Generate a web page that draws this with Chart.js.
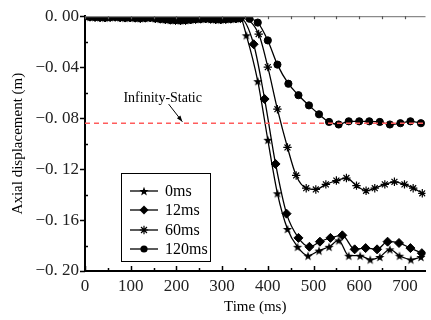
<!DOCTYPE html>
<html><head><meta charset="utf-8">
<script src="https://cdn.jsdelivr.net/npm/chart.js@4/dist/chart.umd.min.js"></script>
<style>html,body{margin:0;padding:0;background:#fff}#wrap{width:431px;height:320px}</style>
</head><body><div id="wrap"><canvas id="c" width="431" height="320"></canvas></div>
<script>
// ---- data ----
const earlyTimes = [0,11,22,33,44,55,66,77,88,99,110,121,132,143,154,165,176,187,198,209,220,231,242,253,264,275,286,297,308,319,330,340];
const earlyDisp  = [0,-0.0004,-0.0006,-0.0008,-0.0010,-0.0007,-0.0005,-0.0009,-0.0011,-0.0010,-0.0012,-0.0015,-0.0012,-0.0010,-0.0016,-0.0020,-0.0024,-0.0028,-0.0030,-0.0032,-0.0030,-0.0026,-0.0022,-0.0020,-0.0018,-0.0021,-0.0024,-0.0025,-0.0022,-0.0020,-0.0018,-0.0015];

const time0ms = [353,378,400,421,443,465,488,512,534,555,577,602,624,645,667,688,713,735];
const disp0ms = [-0.015,-0.051,-0.097,-0.139,-0.167,-0.181,-0.188,-0.184,-0.181,-0.176,-0.188,-0.188,-0.191,-0.189,-0.183,-0.188,-0.191,-0.189];

const time12ms = [369,393,417,441,467,491,514,537,563,590,614,639,662,687,712,737];
const disp12ms = [-0.022,-0.065,-0.116,-0.155,-0.174,-0.181,-0.177,-0.174,-0.172,-0.183,-0.182,-0.183,-0.177,-0.178,-0.182,-0.186];

const time60ms = [380,400,421,443,462,484,505,527,550,572,594,615,634,656,677,699,718,738];
const disp60ms = [-0.014,-0.040,-0.073,-0.103,-0.125,-0.135,-0.136,-0.132,-0.129,-0.127,-0.133,-0.137,-0.135,-0.132,-0.130,-0.132,-0.135,-0.139];

const time120ms = [360,378,400,421,445,467,490,512,534,555,577,600,622,645,667,690,712,735];
const disp120ms = [-0.002,-0.005,-0.019,-0.038,-0.053,-0.062,-0.070,-0.077,-0.083,-0.085,-0.0825,-0.0825,-0.0825,-0.083,-0.085,-0.084,-0.0825,-0.084];

const seriesNames = ['0ms','12ms','60ms','120ms'];
const staticLevel = -0.084;
const staticLabel = 'Infinity-Static';
const xTickValues = [0,100,200,300,400,500,600,700];
const yTickValues = [0,-0.04,-0.08,-0.12,-0.16,-0.20];

// ---- markers ----
function starCanvas(r){
  const s = Math.ceil(r*2)+2;
  const c = document.createElement('canvas'); c.width = s; c.height = s;
  const g = c.getContext('2d');
  g.translate(s/2, s/2+0.6);
  g.beginPath();
  for(let i=0;i<10;i++){
    const rad = i%2 ? r*0.42 : r;
    const a = -Math.PI/2 + i*Math.PI/5;
    g.lineTo(rad*Math.cos(a), rad*Math.sin(a));
  }
  g.closePath(); g.fillStyle='#000'; g.fill();
  return c;
}
const star5 = starCanvas(4.8);

function build(times, disp){
  const t = earlyTimes.concat(times), d = earlyDisp.concat(disp);
  return t.map((v,i)=>({x:v, y:d[i]}));
}
const FONT = '"Liberation Serif", "Times New Roman", serif';

const styles = [
  {pointStyle: star5, radius: 4.5},
  {pointStyle: 'rectRot', radius: 4.5},
  {pointStyle: 'star', radius: 4.2},
  {pointStyle: 'circle', radius: 3.6}
];
const allSeries = [[time0ms,disp0ms],[time12ms,disp12ms],[time60ms,disp60ms],[time120ms,disp120ms]];

const datasets = allSeries.map((s,i)=>({
  label: seriesNames[i],
  data: build(s[0], s[1]),
  borderColor:'#000', backgroundColor:'#000', borderWidth:1.3,
  pointStyle: styles[i].pointStyle, pointRadius: styles[i].radius,
  pointBorderColor:'#000', pointBackgroundColor:'#000', pointBorderWidth: i===2?1.2:1,
  cubicInterpolationMode:'monotone', order: 1
}));
datasets.push({
  label:'static', data:[{x:0,y:staticLevel},{x:745,y:staticLevel}],
  borderColor:'#ff5c5c', borderWidth:1.6, borderDash:[5,4], pointRadius:0, order:0
});

function drawMarker(ctx, i, x, y){
  ctx.fillStyle='#000'; ctx.strokeStyle='#000';
  if(i===0){ ctx.drawImage(star5, x-star5.width/2, y-star5.height/2); return; }
  ctx.beginPath();
  if(i===1){ const r=4.5; ctx.moveTo(x,y-r); ctx.lineTo(x+r,y); ctx.lineTo(x,y+r); ctx.lineTo(x-r,y); ctx.closePath(); ctx.fill(); }
  else if(i===2){ const r=4.2; ctx.lineWidth=1.2;
    for(let k=0;k<4;k++){ const a=k*Math.PI/4; ctx.moveTo(x-r*Math.cos(a),y-r*Math.sin(a)); ctx.lineTo(x+r*Math.cos(a),y+r*Math.sin(a)); }
    ctx.stroke(); }
  else { ctx.arc(x,y,3.6,0,Math.PI*2); ctx.fill(); }
}

const deco = {
  id:'deco',
  afterDraw(chart){
    const {ctx, chartArea:a, scales:{x, y}} = chart;
    ctx.save();
    // top frame line
    ctx.strokeStyle='#8a8a8a'; ctx.lineWidth=1.2;
    ctx.beginPath(); ctx.moveTo(a.left, a.top+0.5); ctx.lineTo(a.right, a.top+0.5); ctx.stroke();
    ctx.strokeStyle='#555'; ctx.lineWidth=1.2;
    for(let v=0; v<=745; v+=50){
      const px = Math.round(x.getPixelForValue(v))+0.5;
      ctx.beginPath(); ctx.moveTo(px, a.top); ctx.lineTo(px, a.top+3); ctx.stroke();
    }
    // x ticks (inward)
    ctx.strokeStyle='#000'; ctx.lineWidth=1.5;
    for(let v=0; v<=745; v+=50){
      const px = Math.round(x.getPixelForValue(v))+0.5;
      const len = v%100===0 ? 5 : 3;
      ctx.beginPath(); ctx.moveTo(px, a.bottom); ctx.lineTo(px, a.bottom-len); ctx.stroke();
    }
    // y ticks: major outward, minor inward
    for(let k=0; k<=10; k++){
      const v = -k*0.02;
      const py = Math.round(y.getPixelForValue(v))+0.5;
      ctx.beginPath();
      if(k%2===0){ ctx.moveTo(a.left, py); ctx.lineTo(a.left-5, py); }
      else { ctx.moveTo(a.left, py); ctx.lineTo(a.left+3, py); }
      ctx.stroke();
    }
    // annotation
    ctx.fillStyle='#000'; ctx.font='14px '+FONT; ctx.textAlign='center'; ctx.textBaseline='middle';
    ctx.fillText(staticLabel, x.getPixelForValue(170), y.getPixelForValue(-0.0645));
    const tx = x.getPixelForValue(183), ty = y.getPixelForValue(-0.069);
    const hx = x.getPixelForValue(213), hy = y.getPixelForValue(-0.0828);
    ctx.strokeStyle='#000'; ctx.lineWidth=1;
    ctx.beginPath(); ctx.moveTo(tx,ty); ctx.lineTo(hx,hy); ctx.stroke();
    const ang = Math.atan2(hy-ty, hx-tx);
    ctx.beginPath(); ctx.moveTo(hx,hy);
    ctx.lineTo(hx-6*Math.cos(ang)+2.2*Math.sin(ang), hy-6*Math.sin(ang)-2.2*Math.cos(ang));
    ctx.lineTo(hx-6*Math.cos(ang)-2.2*Math.sin(ang), hy-6*Math.sin(ang)+2.2*Math.cos(ang));
    ctx.closePath(); ctx.fill();
    // legend box
    const bx = 121.5, by = 173.5, bw = 89, bh = 88;
    ctx.fillStyle='#fff'; ctx.fillRect(bx,by,bw,bh);
    ctx.strokeStyle='#000'; ctx.lineWidth=1; ctx.strokeRect(bx,by,bw,bh);
    const rows = [191,210,230,249];
    ctx.font='16px '+FONT; ctx.textAlign='left'; ctx.textBaseline='middle';
    seriesNames.forEach((n,i)=>{
      const ly = rows[i];
      ctx.strokeStyle='#000'; ctx.lineWidth=1.3;
      ctx.beginPath(); ctx.moveTo(130, ly); ctx.lineTo(158, ly); ctx.stroke();
      drawMarker(ctx, i, 144, ly);
      ctx.fillStyle='#000'; ctx.fillText(n, 165, ly+1);
    });
    ctx.restore();
  }
};

function fmtY(v){
  if(Math.abs(v)<1e-9) return '0. 00';
  const s = Math.abs(v).toFixed(2).replace('.', '. ');
  return (v<0?'\u2212':'') + s;
}

new Chart(document.getElementById('c'), {
  type:'line',
  data:{datasets},
  options:{
    responsive:false, animation:false, devicePixelRatio:1,
    layout:{padding:{top:14,right:0,left:0,bottom:0}},
    plugins:{legend:{display:false}, tooltip:{enabled:false}},
    scales:{
      x:{type:'linear', min:0, max:745,
        afterFit(s){ s.height = 49; },
        afterBuildTicks(s){ s.ticks = xTickValues.map(v=>({value:v})); },
        ticks:{font:{family:FONT,size:17}, color:'#222', padding:5, maxRotation:0},
        grid:{display:false, drawTicks:false, tickLength:0},
        border:{display:true, color:'#000', width:2},
        title:{display:true, text:'Time (ms)', font:{family:FONT,size:15}, color:'#000', padding:{top:0,bottom:4}}
      },
      y:{type:'linear', min:-0.2, max:0,
        afterFit(s){ s.width = 85; },
        afterBuildTicks(s){ s.ticks = yTickValues.map(v=>({value:v})); },
        ticks:{font:{family:FONT,size:17}, color:'#222', padding:6, callback:(v)=>fmtY(v)},
        grid:{display:false, drawTicks:false, tickLength:0},
        border:{display:true, color:'#000', width:2},
        title:{display:true, text:'Axial displacement (m)', font:{family:FONT,size:15}, color:'#000', padding:{top:9,bottom:0}}
      }
    }
  },
  plugins:[deco]
});
</script></body></html>
